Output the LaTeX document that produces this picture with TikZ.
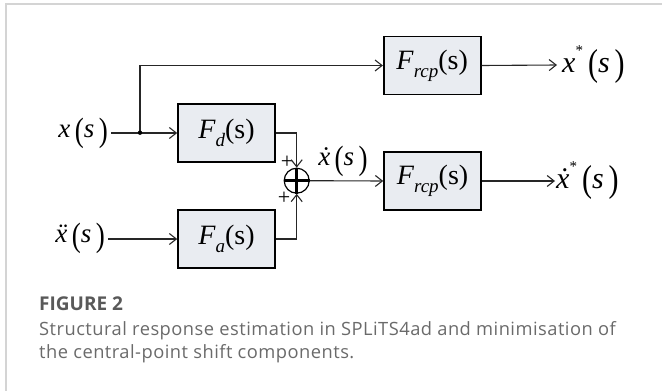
\documentclass[tikz,border=0pt]{standalone}
\usepackage{fontspec}
\usepackage{graphicx}
\setmainfont{Liberation Serif}
\newfontfamily\capfont{Open Sans}
\usetikzlibrary{arrows.meta}
\definecolor{boxfill}{HTML}{E9ECF1}
\definecolor{framegray}{HTML}{D4D4D4}
\definecolor{capdark}{HTML}{595959}
\definecolor{captext}{HTML}{6A6A6A}
\newcommand\subtxt[1]{\raisebox{-0.28em}{\fontsize{19}{19}\selectfont\itshape #1}}
\newcommand\startxt{\raisebox{0.55em}{\fontsize{15}{15}\selectfont *}}
\newcommand\lp{\raisebox{-0.12em}{\scalebox{1}[1.25]{(}}}
\newcommand\rp{\raisebox{-0.12em}{\scalebox{1}[1.25]{)}}}
\begin{document}
\begin{tikzpicture}[x=1pt,y=-1pt,
  blk/.style={draw=black, line width=1.6pt, fill=boxfill, minimum width=97pt, minimum height=58pt, inner sep=0pt, font=\fontsize{28}{30}\selectfont},
  wire/.style={line width=1.1pt, draw=black!85},
  arr/.style={wire, -{Straight Barb[length=7pt,width=11pt,line width=1.1pt]}},
  lbl/.style={inner sep=0pt, font=\fontsize{27}{29}\selectfont},
  rlbl/.style={inner sep=0pt, font=\fontsize{30}{32}\selectfont},
  plus/.style={inner sep=0pt, font=\fontsize{22}{22}\selectfont},
  capline/.style={anchor=base west, inner sep=0pt, font=\capfont\fontsize{18.3}{18.3}\selectfont\addfontfeature{LetterSpace=2.6}, text=captext},
]
\useasboundingbox (0,0) rectangle (662,391);
\draw[line width=1.5pt, draw=framegray] (6,391) -- (6,4) -- (662,4);

% blocks
\node[blk] (frcp1) at (432.2,65.5) {\textit{F}\subtxt{rcp}(s)};
\node[blk] (fd) at (226.5,133) {\textit{F}\subtxt{d}(s)};
\node[blk] (fa) at (226.5,239) {\textit{F}\subtxt{a}(s)};
\node[blk] (frcp2) at (432.5,181) {\textit{F}\subtxt{rcp}(s)};

% summing junction
\node[circle, draw=black, line width=1.2pt, minimum size=25pt, inner sep=0pt] (sum) at (296.7,180.7) {};
\draw[line width=3pt] (sum.west) -- (sum.east);
\draw[line width=3pt] (sum.north) -- (sum.south);
\node[plus] (p1) at (287,162) {+};
\node[plus] (p2) at (284,198) {+};

% labels
\node[lbl, anchor=east, inner xsep=3pt] (xin) at (111,133) {\textit{x}\,\lp\textit{s}\,\rp};
\node[lbl, anchor=east, inner xsep=3pt] (xdd) at (108,238) {\textit{\"x}\,\lp\textit{s}\,\rp};
\node[lbl] (xd) at (343,161) {\textit{\.x}\,\lp\textit{s}\,\rp};
\node[rlbl, anchor=west, inner xsep=5pt] (xstar) at (557,65) {\textit{x}\startxt\,\lp\textit{s}\,\rp};
\node[rlbl, anchor=west, inner xsep=1pt] (xdstar) at (555,181) {\textit{\.x}\startxt\,\lp\textit{s}\,\rp};

% connectors
\coordinate (j) at (140,132.7);
\draw[arr] (fd.west -| xin.east) -- (fd.west);
\draw[arr] (j) |- (frcp1.west);
\fill (j) circle (2.2);
\draw[arr] (fa.west -| xdd.east) -- (fa.west);
\draw[arr] (fd.east) -| (sum.north);
\draw[arr] (fa.east) -| (sum.south);
\draw[arr] (sum.east) -- (frcp2.west);
\draw[arr] (frcp1.east) -- (xstar.west);
\draw[arr] (frcp2.east) -- (xdstar.west);

% caption
\node[capline, font=\capfont\bfseries\fontsize{19}{19}\selectfont, text=capdark] (cap0) at (39,310.7) {FIGURE 2};
\node[capline] (cap1) at (39,335) {Structural response estimation in SPLiTS4ad and minimisation of};
\node[capline] (cap2) at (39,358) {the central-point shift components.};
\end{tikzpicture}
\end{document}
